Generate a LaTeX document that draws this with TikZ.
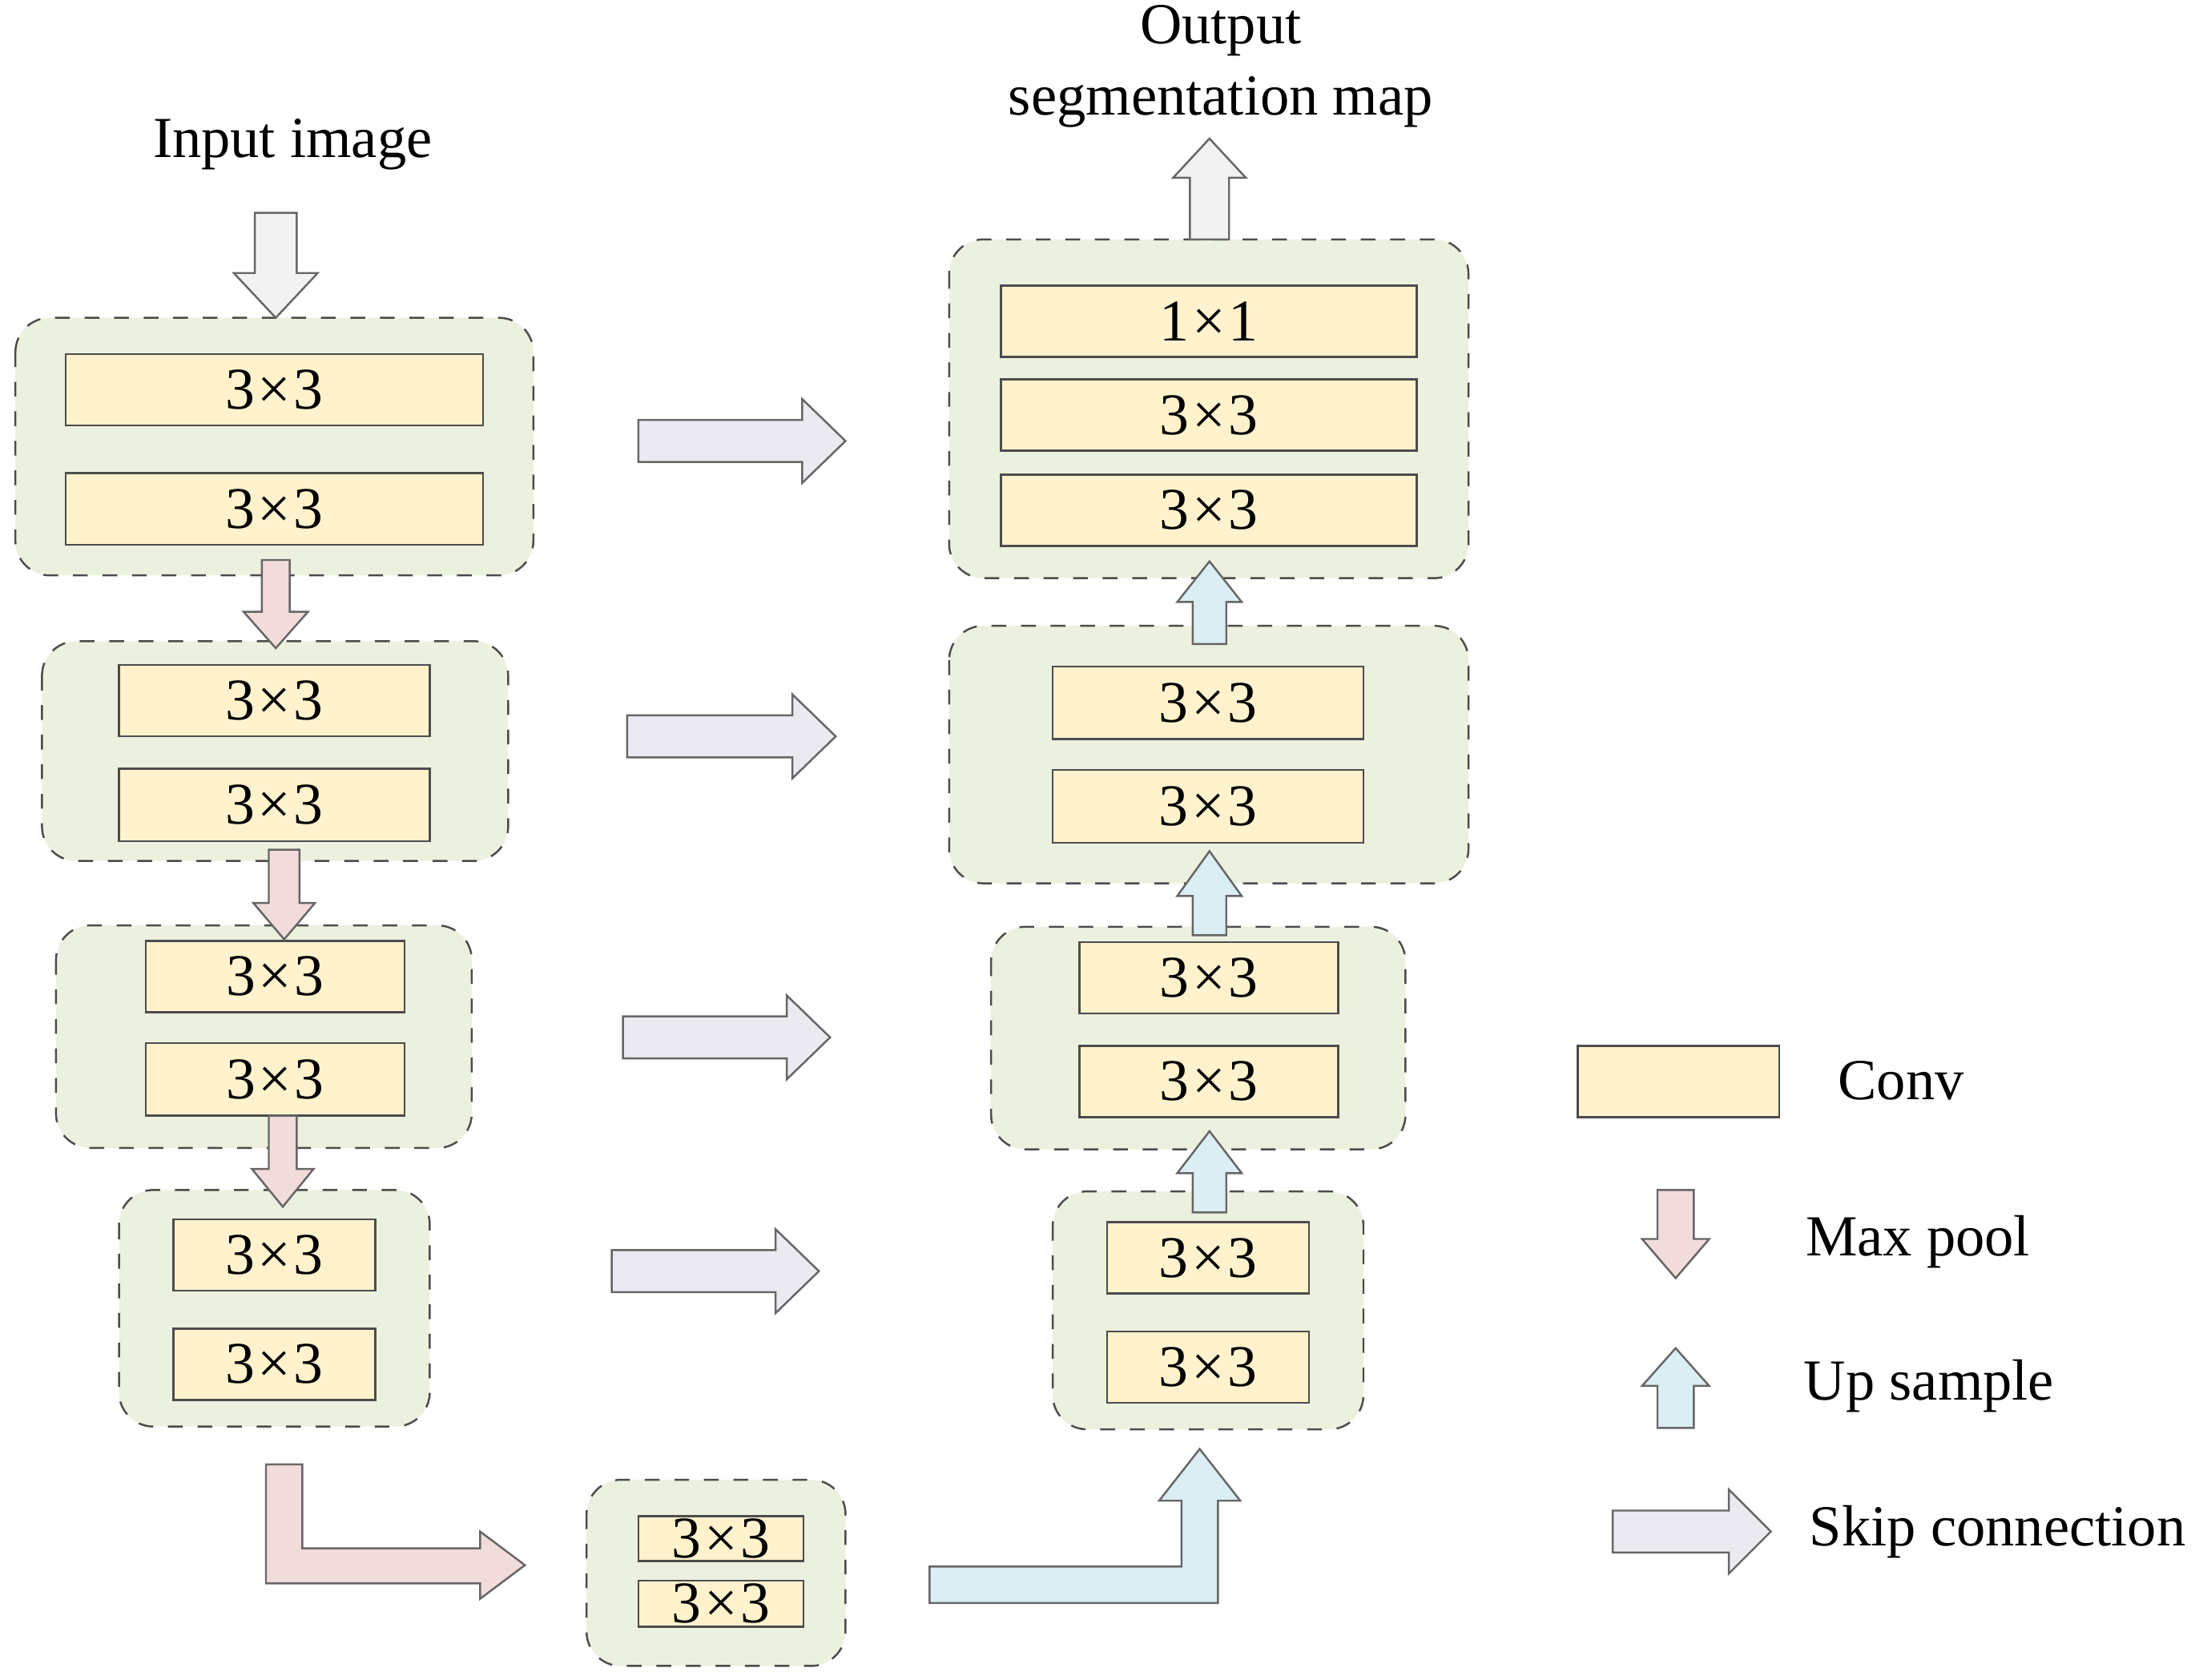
\documentclass[tikz,border=0pt]{standalone}
\usepackage{fontspec}
\setmainfont{Liberation Serif}
\begin{document}
\definecolor{blockfill}{HTML}{EBF1DE}
\definecolor{convfill}{HTML}{FFF2CC}
\definecolor{poolfill}{HTML}{F2DCDB}
\definecolor{upfill}{HTML}{DAEEF3}
\definecolor{skipfill}{HTML}{ECEAF1}
\definecolor{iofill}{HTML}{F2F2F2}
\tikzset{
  block/.style={draw=black!70,dashed,fill=blockfill,rounded corners=7pt,line width=0.4pt},
  conv/.style={draw=black!70,fill=convfill,line width=0.4pt},
  arr/.style={draw=black!60,line width=0.4pt},
  lbl/.style={font=\fontsize{12}{14}\selectfont},
  txt/.style={font=\fontsize{11.8}{14}\selectfont}
}
\newcommand\kthree{3\kern0.05em×\kern0.05em3}
% vertical block arrow: style, cx, shaft half, head half, y start, y head base, y tip
\newcommand\varrow[7]{\draw[arr,fill=#1] ({#2-#3},#5) -- ({#2+#3},#5) -- ({#2+#3},#6) -- ({#2+#4},#6) -- (#2,#7) -- ({#2-#4},#6) -- ({#2-#3},#6) -- cycle;}
% horizontal block arrow: style, cy, shaft half, head half, x start, x head base, x tip
\newcommand\harrow[7]{\draw[arr,fill=#1] (#5,{#2-#3}) -- (#5,{#2+#3}) -- (#6,{#2+#3}) -- (#6,{#2+#4}) -- (#7,#2) -- (#6,{#2-#4}) -- (#6,{#2-#3}) -- cycle;}
\newcommand\convbox[5]{\node[conv,lbl,minimum width={(#3-#1)*0.01cm},minimum height={(#4-#2)*0.01cm},inner sep=0pt] at ({(#1+#3)/2},{(#2+#4)/2}) {#5};}
\begin{tikzpicture}[x=0.01cm,y=-0.01cm]
\useasboundingbox (0,0) rectangle (1568,1200);
% blocks
\draw[block] (11,227) rectangle (381,411);
\draw[block] (30,458) rectangle (363,615);
\draw[block] (40,661) rectangle (337,820);
\draw[block] (85,850) rectangle (307,1019);
\draw[block] (419,1057) rectangle (604,1190);
\draw[block] (752,851) rectangle (974,1021);
\draw[block] (708,662) rectangle (1004,821);
\draw[block] (678,447) rectangle (1049,631);
\draw[block] (678,171) rectangle (1049,413);
% convs
\convbox{47}{253}{345}{304}{\kthree}
\convbox{47}{338}{345}{389}{\kthree}
\convbox{85}{475}{307}{526}{\kthree}
\convbox{85}{549}{307}{601}{\kthree}
\convbox{104}{672}{289}{723}{\kthree}
\convbox{104}{745}{289}{797}{\kthree}
\convbox{124}{871}{268}{922}{\kthree}
\convbox{124}{949}{268}{1000}{\kthree}
\convbox{456}{1083}{574}{1115}{\kthree}
\convbox{456}{1129}{574}{1162}{\kthree}
\convbox{791}{873}{935}{924}{\kthree}
\convbox{791}{951}{935}{1002}{\kthree}
\convbox{771}{673}{956}{724}{\kthree}
\convbox{771}{747}{956}{798}{\kthree}
\convbox{752}{476}{974}{528}{\kthree}
\convbox{752}{550}{974}{602}{\kthree}
\convbox{715}{204}{1012}{255}{1\kern0.05em×\kern0.05em1}
\convbox{715}{271}{1012}{322}{\kthree}
\convbox{715}{339}{1012}{390}{\kthree}
% input / output
\varrow{iofill}{197}{15}{30}{152}{195}{227}
\varrow{iofill}{864}{14}{26}{171}{127}{99}
% max pool
\varrow{poolfill}{197}{10}{23}{400}{437}{463}
\varrow{poolfill}{203}{11}{22}{607}{645}{671}
\varrow{poolfill}{202}{10}{22}{797}{835}{862}
% up sample
\varrow{upfill}{864}{12}{23}{866}{838}{808}
\varrow{upfill}{864}{12}{23}{668}{640}{608}
\varrow{upfill}{864}{12}{23}{460}{430}{401}
% skip connections
\harrow{skipfill}{315}{15}{30}{456}{573}{604}
\harrow{skipfill}{526}{15}{30}{448}{566}{597}
\harrow{skipfill}{741}{15}{30}{445}{562}{593}
\harrow{skipfill}{908}{15}{30}{437}{554}{585}
% bottleneck L arrows
\draw[arr,fill=poolfill] (190,1046) -- (216,1046) -- (216,1106) -- (343,1106) -- (343,1094) -- (375,1118) -- (343,1142) -- (343,1131) -- (190,1131) -- cycle;
\draw[arr,fill=upfill] (664,1145) -- (870,1145) -- (870,1072) -- (886,1072) -- (857,1035) -- (828,1072) -- (844,1072) -- (844,1119) -- (664,1119) -- cycle;
% texts
\node[txt] (in) at (209,103) {Input image};
\node[txt] (out1) at (872,22) {Output};
\node[txt] (out2) at (872,73) {segmentation map};
% legend
\draw[conv] (1127,747) rectangle (1271,798);
\node[txt] (lconv) at (1358,772) {Conv};
\varrow{poolfill}{1197}{13}{24}{850}{885}{913}
\node[txt] (lpool) at (1370,887) {Max pool};
\varrow{upfill}{1197}{13}{24}{1020}{990}{963}
\node[txt] (lup) at (1378,990) {Up sample};
\harrow{skipfill}{1094}{15}{30}{1152}{1235}{1265}
\node[txt] (lskip) at (1427,1094) {Skip connection};
\end{tikzpicture}
\end{document}
